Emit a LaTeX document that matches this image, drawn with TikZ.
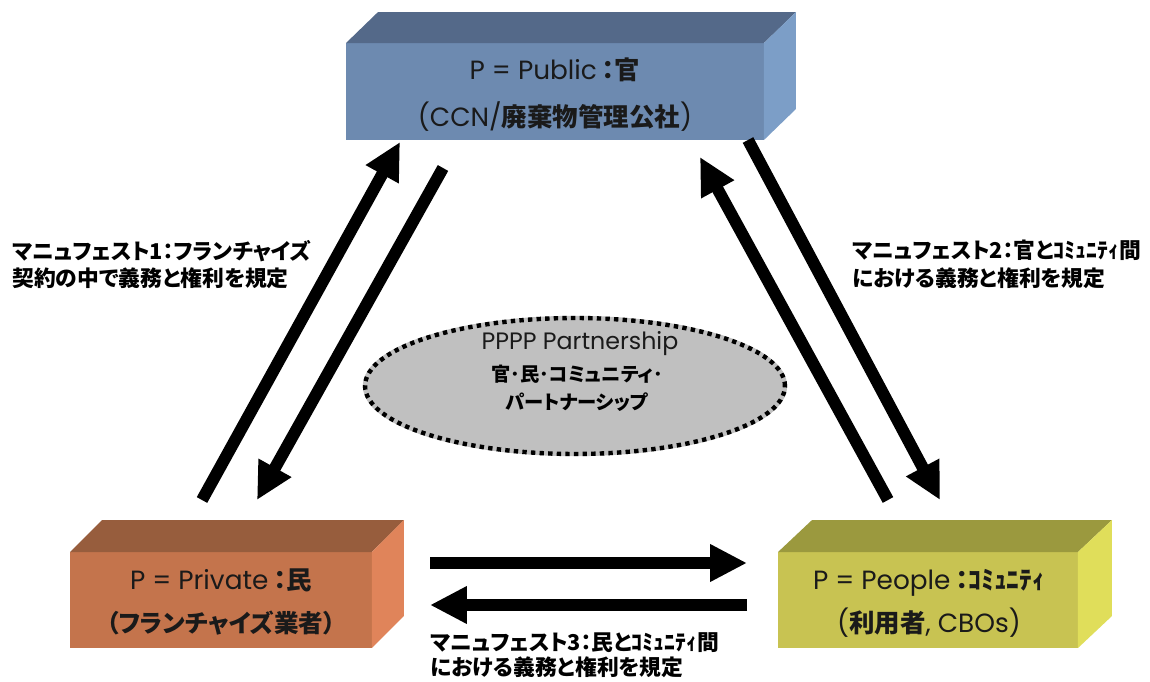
\documentclass[tikz,border=0pt]{standalone}
\usepackage{fontspec}
\newfontfamily\lat{Poppins}
\newfontfamily\cjk[RawFeature=+palt]{Noto Sans CJK JP}
\usetikzlibrary{arrows.meta,shapes.geometric}
\newcommand\jb[1]{{\cjk\bfseries #1}}
\definecolor{pubfront}{HTML}{6D8AB0}
\definecolor{pubtop}{HTML}{546989}
\definecolor{pubside}{HTML}{7C9EC7}
\definecolor{prifront}{HTML}{C4744C}
\definecolor{pritop}{HTML}{975D3D}
\definecolor{priside}{HTML}{E0845A}
\definecolor{peofront}{HTML}{C8C352}
\definecolor{peotop}{HTML}{9B993E}
\definecolor{peoside}{HTML}{E0DE5A}
\definecolor{ellfill}{HTML}{C0C0C0}
\definecolor{txt}{HTML}{1A1A1A}
\begin{document}
\begin{tikzpicture}[x=0.02cm,y=-0.02cm,
  frontface/.style={draw=none,inner sep=0pt,outer sep=0pt},
  boxtext/.style={anchor=base,inner sep=0pt,text=txt,font=\lat\fontsize{15pt}{18pt}\selectfont},
  lbl/.style={anchor=north west,inner sep=0pt,align=left,text=black,font=\cjk\bfseries\fontsize{12.4pt}{15.5pt}\selectfont},
  bigarrow/.style={line width=6.8pt,-{Triangle[length=21pt,width=20pt]}},
  ell/.style={ellipse,fill=ellfill,draw=ellfill,line width=2.5pt,minimum width=8.4cm,minimum height=2.72cm,inner sep=0pt,
    postaction={draw=black,line width=2.5pt,dash pattern=on 2.5pt off 2.4pt}}
]
\path[use as bounding box,fill=white] (0,0) rectangle (1150,682);

% Public box
\node[frontface,fill=pubfront,minimum width=8.36cm,minimum height=1.94cm] (pub) at (555,91.5) {};
\fill[pubtop] (pub.north west) -- ++(32,-31) -- ++(418,0) -- (pub.north east) -- cycle;
\fill[pubside] (pub.north east) -- ++(32,-31) -- ++(0,97) -- (pub.south east) -- cycle;
\node[boxtext] (pub1) at (555,80) {P = Public\hspace{3pt}\jb{\fontsize{14.5pt}{18pt}\selectfont ：官}};
\node[boxtext] (pub2) at (555,127) {(CCN/\jb{\fontsize{14.5pt}{18pt}\selectfont 廃棄物管理公社})};

% Private box
\node[frontface,fill=prifront,minimum width=6.04cm,minimum height=1.92cm] (pri) at (221,600) {};
\fill[pritop] (pri.north west) -- ++(32,-32) -- ++(302,0) -- (pri.north east) -- cycle;
\fill[priside] (pri.north east) -- ++(32,-32) -- ++(0,96) -- (pri.south east) -- cycle;
\node[boxtext] (pri1) at (221,589) {P = Private\hspace{3pt}\jb{\fontsize{14.5pt}{18pt}\selectfont ：民}};
\node[boxtext] (pri2) at (221,632) {\jb{\fontsize{14pt}{18pt}\selectfont （フランチャイズ業者）}};

% People box
\node[frontface,fill=peofront,minimum width=6.0cm,minimum height=1.92cm] (peo) at (928,600) {};
\fill[peotop] (peo.north west) -- ++(34,-32) -- ++(300,0) -- (peo.north east) -- cycle;
\fill[peoside] (peo.north east) -- ++(34,-32) -- ++(0,96) -- (peo.south east) -- cycle;
\node[boxtext] (peo1) at (929,589) {P = People\hspace{3pt}\jb{\fontsize{14.5pt}{18pt}\selectfont ：ｺﾐｭﾆﾃｨ}};
\node[boxtext] (peo2) at (929,632) {(\jb{\fontsize{14.5pt}{18pt}\selectfont 利用者}, CBOs)};

% Ellipse
\node[ell] (ppp) at (575,386) {};
\node[anchor=base,inner sep=0pt,text=txt,font=\lat\fontsize{13.5pt}{16pt}\selectfont] (ppp1) at (580,350) {PPPP Partnership};
\node[anchor=base,inner sep=0pt,text=black,font=\cjk\bfseries\fontsize{11pt}{13pt}\selectfont] (ppp2) at (577,381) {官･民･コミュニティ･};
\node[anchor=base,inner sep=0pt,text=black,font=\cjk\bfseries\fontsize{11pt}{13pt}\selectfont] (ppp3) at (577,409) {パートナーシップ};

% Arrow end points
\coordinate (a1s) at (202,500); \coordinate (a1e) at (400,142);
\coordinate (a2s) at (443,168); \coordinate (a2e) at (257,500);
\coordinate (a3s) at (888,500); \coordinate (a3e) at (700,157);
\coordinate (a4s) at (748,140); \coordinate (a4e) at (940,500);
\coordinate (a5s) at (430,563); \coordinate (a5e) at (747,563);
\coordinate (a6s) at (747,605); \coordinate (a6e) at (430,605);
\draw[bigarrow] (a1s) -- (a1e);
\draw[bigarrow] (a2s) -- (a2e);
\draw[bigarrow] (a3s) -- (a3e);
\draw[bigarrow] (a4s) -- (a4e);
\draw[bigarrow] (a5s) -- (a5e);
\draw[bigarrow] (a6s) -- (a6e);

% Labels
\node[lbl] (m1) at (12,240) {マニュフェスト1：フランチャイズ\\契約の中で義務と権利を規定};
\node[lbl] (m2) at (852,240) {マニュフェスト2：官とｺﾐｭﾆﾃｨ間\\における義務と権利を規定};
\node[lbl,font=\cjk\bfseries\fontsize{12.4pt}{14.2pt}\selectfont] (m3) at (430,632) {マニュフェスト3：民とｺﾐｭﾆﾃｨ間\\における義務と権利を規定};
\end{tikzpicture}
\end{document}
